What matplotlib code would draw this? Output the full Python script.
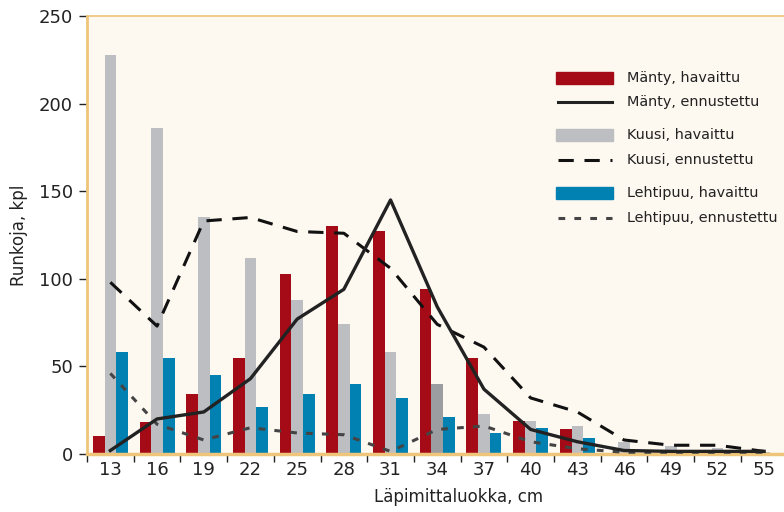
import matplotlib
matplotlib.use('Agg')
import matplotlib.pyplot as plt
import matplotlib.patches as patches
from matplotlib.lines import Line2D
import numpy as np

# Data
classes = [13, 16, 19, 22, 25, 28, 31, 34, 37, 40, 43, 46, 49, 52, 55]
manty_obs = [10, 18, 34, 55, 103, 130, 127, 94, 55, 19, 14, 0, 0, 0, 0]
kuusi_obs = [228, 186, 135, 112, 88, 74, 58, 40, 23, 19, 16, 7, 4.5, 3.5, 1]
lehti_obs = [58, 55, 45, 27, 34, 40, 32, 21, 12, 15, 9, 0.5, 0.5, 0.5, 0.5]
manty_pred = [2, 20, 24, 43, 77, 94, 145, 84, 37, 14, 7, 2, 1.5, 1.5, 1.5]
kuusi_pred = [98, 73, 133, 135, 127, 126, 106, 74, 61, 32, 24, 8, 5, 5, 1.5]
lehti_pred = [46, 17, 8, 15, 12, 11, 1.5, 14, 16, 7, 3, 1, 1, 1, 1]

# Colors
c_red = '#a50b16'
c_gray = '#bdbec2'
c_gray_dark = '#9c9da1'
c_blue = '#0081b1'
c_spine = '#eec57a'
c_bg = '#fdf8f0'
c_text = '#222222'

plt.rcParams['font.family'] = ['DejaVu Sans']

fig = plt.figure(figsize=(7.84, 5.12), dpi=100)
ax = fig.add_axes([87 / 784, 1 - 454 / 512, 700.5 / 784, 438 / 512])
ax.set_facecolor(c_bg)

x = np.arange(len(classes))
bw = 0.25
ax.bar(x - bw, manty_obs, bw, color=c_red, zorder=2)
gray_cols = [c_gray_dark if c == 34 else c_gray for c in classes]
ax.bar(x, kuusi_obs, bw, color=gray_cols, zorder=2)
ax.bar(x + bw, lehti_obs, bw, color=c_blue, zorder=2)

ax.plot(x, lehti_pred, color='#444444', lw=2.2, dashes=(2.2, 3.0), zorder=3)
ax.plot(x, kuusi_pred, color='#111111', lw=2.2, dashes=(5.0, 3.5), zorder=3)
ax.plot(x, manty_pred, color='#222222', lw=2.4, zorder=4)

ax.set_xlim(-0.5, len(classes) - 0.5)
ax.set_ylim(0, 250)
ax.set_yticks([0, 50, 100, 150, 200, 250])
ax.set_xticks(x)
ax.set_xticklabels([str(c) for c in classes])
ax.set_xticks(np.arange(len(classes) + 1) - 0.5, minor=True)
ax.tick_params(axis='x', which='major', length=0, labelsize=13, colors=c_text, pad=5)
ax.tick_params(axis='x', which='minor', length=6, width=1, color=c_text, direction='out')
ax.tick_params(axis='y', length=6, width=1, color=c_text, labelsize=13, labelcolor=c_text, pad=4)

for side in ['left', 'bottom', 'top']:
    ax.spines[side].set_color(c_spine)
ax.spines['left'].set_linewidth(2)
ax.spines['bottom'].set_linewidth(2.5)
ax.spines['top'].set_linewidth(1.2)
ax.spines['right'].set_visible(False)

ax.set_ylabel('Runkoja, kpl', fontsize=12, color=c_text, labelpad=8)
ax.set_xlabel('Läpimittaluokka, cm', fontsize=12, color=c_text)
ax.xaxis.set_label_coords(0.53, -0.078)

# Legend drawn by hand (grouped rows)
def fx(px):
    return px / 784
def fy(py):
    return 1 - py / 512

rows = [
    ('bar', c_red, 'Mänty, havaittu', 78),
    ('line', None, 'Mänty, ennustettu', 102),
    ('bar', c_gray, 'Kuusi, havaittu', 135),
    ('dash', None, 'Kuusi, ennustettu', 160),
    ('bar', c_blue, 'Lehtipuu, havaittu', 193),
    ('dot', None, 'Lehtipuu, ennustettu', 218),
]
for kind, col, label, py in rows:
    if kind == 'bar':
        fig.patches.append(patches.Rectangle((fx(556), fy(py + 6)), fx(57), 12 / 512,
                                             color=col, transform=fig.transFigure))
    elif kind == 'line':
        fig.lines.append(Line2D([fx(558), fx(612)], [fy(py), fy(py)], color='#222222',
                                lw=2.2, transform=fig.transFigure))
    elif kind == 'dash':
        fig.lines.append(Line2D([fx(558), fx(612)], [fy(py), fy(py)], color='#111111',
                                lw=2.2, dashes=(5.0, 3.5), transform=fig.transFigure))
    else:
        fig.lines.append(Line2D([fx(558), fx(612)], [fy(py), fy(py)], color='#444444',
                                lw=2.2, dashes=(2.2, 3.0), transform=fig.transFigure))
    fig.text(fx(627), fy(py), label, fontsize=10.4, color=c_text, ha='left', va='center')

fig.savefig('out.png', dpi=100, facecolor='white')
